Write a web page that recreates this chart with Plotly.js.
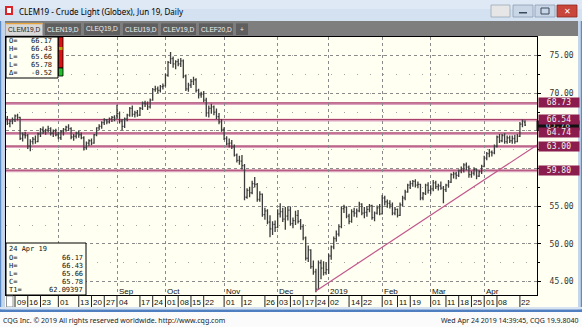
<!DOCTYPE html>
<html><head><meta charset="utf-8">
<script src="https://cdn.plot.ly/plotly-3.0.1.min.js"></script>
<style>html,body{margin:0;padding:0;overflow:hidden;background:#fff}</style>
</head><body><div id="chart" style="width:582px;height:327px"></div>
<script>
// ---------- DATA ----------
const firstDay = '2018-07-02';
const lastDay = '2019-04-24';
const holidays = ['2018-07-04','2018-09-03','2018-11-22','2018-12-25','2019-01-01','2019-01-21','2019-02-18','2019-04-19'];

const openP = [66.2,66.6,66.0,66.3,66.5,67.0,66.8,64.0,64.5,64.4,
 63.0,63.6,63.9,63.6,64.6,65.2,64.9,65.1,65.3,64.7,
 65.0,64.5,64.1,64.9,65.2,65.5,65.3,64.2,64.3,64.7,
 64.5,64.1,62.8,63.4,63.7,63.4,64.5,65.4,65.6,66.1,
 66.5,66.2,66.6,66.8,67.0,67.3,66.3,65.6,66.6,67.1,
 68.0,67.2,67.4,67.1,68.0,68.7,68.6,68.2,69.1,70.5,
 70.6,70.4,70.9,71.0,72.4,74.1,74.6,73.9,74.2,73.9,
 74.3,72.3,70.6,71.1,71.6,71.8,70.4,69.8,69.9,69.1,
 67.4,68.0,68.2,67.5,66.9,66.2,65.2,64.0,63.3,63.4,
 62.9,61.8,61.1,61.0,60.4,56.2,57.1,56.8,58.0,57.9,
 55.9,56.6,53.9,54.4,52.9,52.0,52.6,52.2,54.0,54.3,
 53.3,53.7,54.5,52.7,53.1,53.8,53.0,52.3,50.8,48.1,
 49.2,47.0,46.3,44.0,47.5,46.8,46.2,46.6,48.4,49.6,
 50.7,51.3,52.3,54.7,54.9,53.7,53.0,54.3,54.1,54.4,
 55.3,54.1,54.2,54.6,55.1,53.5,54.1,54.8,54.0,56.1,
 55.6,55.4,55.2,54.1,54.6,53.8,55.2,56.1,56.9,57.8,
 58.0,58.3,57.8,57.9,56.1,56.7,57.8,57.1,57.3,58.1,
 57.6,57.7,57.4,57.2,57.8,58.2,59.2,59.3,59.1,59.7,
 59.8,60.5,60.2,59.2,59.4,59.9,59.0,59.6,60.3,61.4,
 62.0,62.2,62.1,63.0,64.2,63.7,64.4,63.6,64.1,63.7,
 64.0,63.6,64.3,65.9,66.17];
const highP = [66.9,67.0,66.5,66.8,67.2,67.3,66.9,64.8,64.9,64.6,
 63.9,64.2,64.4,64.8,65.4,65.6,65.3,65.7,65.5,65.2,
 65.3,64.9,65.1,65.4,65.7,65.9,65.5,64.6,64.9,65.0,
 64.8,64.3,63.6,63.9,64.0,64.6,65.5,65.9,66.3,66.7,
 66.6,66.8,67.0,67.1,68.5,67.6,66.6,66.8,67.3,68.2,
 68.4,67.7,67.8,68.2,68.9,69.0,68.9,69.3,70.7,71.0,
 70.9,71.1,71.3,72.6,74.3,75.5,74.9,74.4,74.6,74.7,
 74.5,72.5,71.4,71.9,72.2,72.0,70.6,70.2,70.3,69.4,
 68.4,68.6,68.4,68.0,67.4,66.6,65.5,64.3,64.0,63.8,
 63.2,62.0,61.7,61.8,60.6,57.4,57.6,58.4,58.9,58.1,
 57.0,56.7,54.8,54.6,53.8,53.0,53.1,54.6,55.4,54.8,
 54.9,55.0,54.9,53.5,54.4,54.5,53.3,52.6,51.0,49.8,
 49.3,47.8,46.7,47.8,47.9,47.7,47.6,48.7,49.8,51.0,
 51.8,52.6,55.0,55.2,55.0,54.0,54.6,54.8,54.7,55.6,
 55.4,54.9,55.0,55.3,55.2,54.3,55.1,55.3,56.5,56.4,
 55.9,55.8,55.5,54.9,54.7,55.5,56.4,57.2,58.0,58.4,
 58.5,58.6,58.3,58.0,56.9,58.0,58.2,57.8,58.5,58.4,
 58.0,58.3,57.7,58.0,58.5,59.4,59.6,59.6,59.9,60.3,
 60.7,60.8,60.4,59.7,60.2,60.0,59.8,60.5,61.7,62.2,
 62.6,62.4,63.2,64.4,64.6,64.6,64.7,64.4,64.4,64.4,
 64.5,64.6,66.2,66.54,66.43];
const lowP = [65.9,65.8,65.5,65.9,66.2,66.4,63.8,63.6,64.0,62.6,
 62.3,63.2,63.3,63.5,64.2,64.6,64.5,64.8,64.4,64.2,
 64.3,63.9,63.8,64.4,64.9,65.0,63.9,63.7,64.0,64.1,
 63.9,62.4,62.5,63.0,63.1,63.3,64.3,65.1,65.3,65.8,
 65.9,66.0,66.2,66.3,66.6,66.0,65.1,65.4,66.3,66.9,
 66.9,66.8,66.9,67.0,67.8,68.2,67.8,68.0,69.0,70.2,
 70.0,70.1,70.5,70.9,72.2,73.9,73.4,73.2,73.6,73.5,
 72.0,70.3,70.2,70.7,71.1,70.1,69.3,69.4,68.8,66.9,
 66.8,67.3,67.1,66.6,65.9,64.9,63.8,63.1,62.8,62.6,
 61.6,60.8,60.5,59.9,55.8,56.0,56.2,56.6,57.5,55.6,
 55.6,53.6,53.2,52.6,50.9,51.2,51.6,52.1,53.5,52.9,
 51.9,53.1,52.4,52.1,52.5,52.7,51.9,50.5,47.8,47.6,
 46.7,45.9,43.6,43.9,45.3,45.8,45.9,46.0,47.9,49.3,
 50.3,51.0,52.1,54.1,53.4,52.6,52.8,53.6,53.5,54.2,
 53.8,53.4,53.6,54.2,53.2,53.0,53.9,53.8,53.9,55.1,
 54.8,54.7,53.8,53.8,53.5,53.7,55.0,55.8,56.8,57.3,
 57.6,57.5,57.4,55.8,55.8,56.5,56.7,56.6,57.0,57.3,
 57.1,57.2,55.4,56.9,57.5,58.1,58.7,58.6,58.9,59.4,
 59.5,59.8,58.8,58.8,59.1,58.6,58.9,59.3,60.2,61.1,
 61.5,61.6,61.9,62.8,63.4,63.5,63.3,63.3,63.4,63.3,
 63.3,63.5,64.2,65.5,65.66];
const closeP = [66.6,66.0,66.3,66.5,67.0,66.8,64.0,64.5,64.4,63.0,
 63.6,63.9,63.6,64.6,65.2,64.9,65.1,65.3,64.7,65.0,
 64.5,64.1,64.9,65.2,65.5,65.3,64.2,64.3,64.7,64.5,
 64.1,62.8,63.4,63.7,63.4,64.5,65.4,65.6,66.1,66.5,
 66.2,66.6,66.8,66.7,67.3,66.3,65.6,66.6,67.1,68.0,
 67.2,67.4,67.1,68.0,68.7,68.6,68.2,69.1,70.5,70.6,
 70.4,70.9,71.0,72.4,74.1,74.6,73.9,74.2,73.9,74.3,
 72.3,70.6,71.1,71.6,71.8,70.4,69.8,69.9,69.1,67.4,
 68.0,68.2,67.5,66.9,66.2,65.2,64.0,63.3,63.4,62.9,
 61.8,61.1,61.0,60.4,56.2,57.1,56.8,58.0,57.9,55.9,
 56.6,53.9,54.4,52.9,52.0,52.6,52.2,54.0,54.3,53.3,
 53.7,54.5,52.7,53.1,53.8,53.0,52.3,50.8,48.1,49.2,
 47.0,46.3,44.0,47.5,46.8,46.2,46.6,48.4,49.6,50.7,
 51.3,52.3,54.7,54.9,53.7,53.0,54.3,54.1,54.4,55.3,
 54.1,54.2,54.6,55.1,53.5,54.1,54.8,54.0,56.1,55.6,
 55.4,55.2,54.1,54.6,53.8,55.2,56.1,56.9,57.8,58.0,
 58.3,57.8,57.9,56.1,56.7,57.8,57.1,57.3,58.1,57.6,
 57.7,57.4,57.2,57.8,58.2,59.2,59.3,59.1,59.7,59.8,
 60.5,60.2,59.2,59.4,59.9,59.0,59.6,60.3,61.4,62.0,
 62.2,62.1,63.0,64.2,63.7,64.4,63.6,64.1,63.7,64.0,
 63.6,64.3,65.9,66.3,65.78];

const dayTickDates = ['2018-07-09','2018-07-16','2018-07-23','2018-08-01','2018-08-13','2018-08-20','2018-08-27','2018-09-04','2018-09-17','2018-09-24','2018-10-01','2018-10-08','2018-10-15','2018-10-22','2018-11-01','2018-11-12','2018-11-26','2018-12-03','2018-12-10','2018-12-17','2018-12-24','2019-01-02','2019-01-14','2019-01-22','2019-02-01','2019-02-11','2019-02-19','2019-03-01','2019-03-11','2019-03-18','2019-03-25','2019-04-01','2019-04-08','2019-04-22'];
const dayTickText = ['09','16','23','01','13','20','27','04','17','24','01','08','15','22','01','12','26','03','10','17','24','02','14','22','01','11','19','01','11','18','25','01','08','22'];
const monthDates = ['2018-08-01','2018-09-04','2018-10-01','2018-11-01','2018-12-03','2019-01-02','2019-02-01','2019-03-01','2019-04-01'];
const monthText = ['', 'Sep','Oct','Nov','Dec','2019','Feb','Mar','Apr'];

// 60.00 and 65.00 sit under the level boxes in the reference, so they are not shown
const priceTicks = [45,50,55,60,65,70,75];
const priceTickText = ['45.00','50.00','55.00','','','70.00','75.00'];
const levelPrices = [68.73, 66.54, 64.74, 63.00, 59.80];
const levelText = ['68.73','66.54','64.74','63.00','59.80'];
const lastPrice = 65.78;
const lastPriceText = '65.78';
const trendStartDate = '2018-12-24', trendStartPrice = 43.75;
const trendRefDate = '2019-04-24', trendRefPrice = 62.09397;

const topInfoLabels = ['O=','H=','L=','L=','\u0394='];
const topInfoValues = ['66.17','66.43','65.66','65.78','-0.52'];
const botInfoTitle = '24 Apr 19';
const botInfoLabels = ['O=','H=','L=','C=','T1='];
const botInfoValues = ['66.17','66.43','65.66','65.78','62.09397'];
const tabNames = ['CLEM19,D','CLEN19,D','CLEQ19,D','CLEU19,D','CLEV19,D','CLEF20,D','+'];
const titleText = 'CLEM19 - Crude Light (Globex), Jun 19, Daily';
const footLeft = 'CQG Inc. \u00a9 2019 All rights reserved worldwide. http://www.cqg.com';
const footRight = 'Wed Apr 24 2019 14:39:45, CQG 19.9.8040';

// ---------- trading calendar ----------
const dates = [];
(function(){
  let d = new Date(firstDay + 'T00:00:00Z');
  const end = new Date(lastDay + 'T00:00:00Z');
  while (d <= end) {
    const s = d.toISOString().slice(0,10);
    const wd = d.getUTCDay();
    if (wd !== 0 && wd !== 6 && holidays.indexOf(s) < 0) dates.push(s);
    d = new Date(d.getTime() + 86400000);
  }
})();
const xi = dates.map((d,i)=>i);
const idx = d => dates.indexOf(d);

// ---------- geometry ----------
const W=582, H=327, ML=6, MR=45, MT=37, MB=32;
const PW=W-ML-MR, PH=H-MT-MB;
const X = px => (px-ML)/PW;
const Y = py => (H-MB-py)/PH;
const XR = [0.47, 208.7];
const YR = [43.22, 77.48];

const shapes = [];
const ann = [];
function rect(x0,y0,x1,y1,fill,lc,lw,layer){
  shapes.push({type:'rect',xref:'paper',yref:'paper',x0:X(x0),x1:X(x1),y0:Y(y1),y1:Y(y0),
    fillcolor:fill,line:{color:lc||fill,width:lw||0},layer:layer||'above'});
}
function text(x,y,t,o){
  o=o||{};
  ann.push({xref:'paper',yref:'paper',x:X(x),y:Y(y),text:t,showarrow:false,
    xanchor:o.anchor||'left',yanchor:'middle',borderpad:0,
    font:{family:o.family||'Liberation Sans',size:o.size||8,color:o.color||'#111'}});
}

// level lines (under bars)
levelPrices.forEach(p=>{
  shapes.push({type:'rect',xref:'paper',yref:'y',x0:0,x1:1,ysizemode:'pixel',yanchor:p,y0:-2,y1:0.5,
    fillcolor:'#dba3bd',line:{width:0},layer:'below'});
  shapes.push({type:'line',xref:'paper',yref:'y',x0:0,x1:1,y0:p,y1:p,line:{color:'#a3325f',width:1},layer:'below'});
});
// trend line
(function(){
  const i0 = idx(trendStartDate), i1 = idx(trendRefDate);
  const slope = (trendRefPrice-trendStartPrice)/(i1-i0);
  shapes.push({type:'line',xref:'x',yref:'y',x0:i0,y0:trendStartPrice,x1:XR[1],y1:trendRefPrice+slope*(XR[1]-i1),
    line:{color:'#c2578c',width:1.2},layer:'above'});
})();

// info boxes
rect(6,37,58,78,'#fffff2','#000',1);
rect(58.5,37,63,68,'#e01010','#000',0.8);
rect(58.5,68,63,76,'#1fbf2a','#000',0.8);
rect(59,47,62.5,50,'#b8a800','#b8a800',0);
topInfoLabels.forEach((l,i)=>{
  const y = 41.2 + i*8;
  text(8,y,l,{family:'DejaVu Sans Mono',size:7});
  text(53,y,topInfoValues[i],{family:'DejaVu Sans Mono',size:7,anchor:'right'});
});
rect(6,243,86,295,'#fffff2','#000',1);
text(8,249,botInfoTitle,{family:'DejaVu Sans Mono',size:7});
botInfoLabels.forEach((l,i)=>{
  const y = 257.5 + i*8;
  text(8,y,l,{family:'DejaVu Sans Mono',size:7});
  text(84,y,botInfoValues[i],{family:'DejaVu Sans Mono',size:7,anchor:'right'});
});

// month labels
monthDates.forEach((d,i)=>{
  if(!monthText[i]) return;
  ann.push({xref:'x',yref:'paper',x:idx(d),y:Y(291.3),text:monthText[i],showarrow:false,xanchor:'left',yanchor:'middle',
    xshift:0.5,borderpad:0,font:{family:'Liberation Sans',size:8,color:'#111'}});
});
// day row
rect(6.5,296,13,307,'#ffffff','#777',0.8);
dayTickDates.forEach((d,i)=>{
  shapes.push({type:'line',xref:'x',yref:'paper',x0:idx(d),x1:idx(d),y0:Y(307),y1:Y(295.5),line:{color:'#222',width:1},layer:'above'});
  ann.push({xref:'x',yref:'paper',x:idx(d),y:Y(302),text:dayTickText[i],showarrow:false,xanchor:'left',yanchor:'middle',
    xshift:0.5,borderpad:0,font:{family:'Liberation Sans',size:8,color:'#111'}});
});

// right level boxes (current price box sits partly under the level boxes, as in the reference)
ann.push({xref:'paper',yref:'y',x:1,y:lastPrice,xanchor:'left',yanchor:'middle',xshift:-1,text:lastPriceText,showarrow:false,
  bgcolor:'#111',width:42,height:9,borderpad:0,font:{family:'DejaVu Sans Mono',size:8,color:'#ddd'}});
levelPrices.forEach((p,i)=>{
  ann.push({xref:'paper',yref:'y',x:1,y:p,xanchor:'left',yanchor:'middle',xshift:0.5,text:levelText[i],showarrow:false,
    bgcolor:'#8b1d4e',width:40,height:9,borderpad:0,font:{family:'DejaVu Sans Mono',size:8,color:'#f2f2f2'}});
});

// window chrome
rect(0,0,582,21,'#d3e1f1');
rect(0,0,582,9,'#dfe9f5');
rect(5,6,13,15,'#d8262b');
rect(7,8,11,13,'#ffffff');
text(18,11,titleText,{family:'Noto Sans',size:8,color:'#000'});
rect(491,5,510,17,'#e6e6e6','#9aa7b5',0.8);
rect(513,5,533,17,'#c9d6e6','#8d9db2',0.8);
rect(535,5,555,17,'#c9d6e6','#8d9db2',0.8);
rect(557,5,577,17,'#c8463a','#8e2a22',0.8);
rect(519,12,527,13.5,'#3a4b60');
rect(541,8,549,14,'rgba(0,0,0,0)','#3a4b60',1);
text(567,11,'\u2715',{size:8,color:'#fff',anchor:'center',family:'DejaVu Sans'});
rect(0,21,582,36,'#7e7e7e');
let tx = 5.5;
const tabW = [37,37,37,36,36,35,13];
tabNames.forEach((n,i)=>{
  const active = i===0;
  rect(tx,23,tx+tabW[i],35.5,active?'#d8d8d8':'#5f5f5f',active?'#aaa':'#888',0.6);
  if(active) rect(tx,23,tx+tabW[i],24.2,'#e8a33a');
  text(tx+tabW[i]/2,29.5,n,{size:6.6,color:active?'#222':'#f0f0f0',anchor:'center',family:'Liberation Sans'});
  tx += tabW[i]+2;
});
rect(0,21,5,310,'#c5d6ea');
rect(0,21,1.2,312,'#5d8bc6');
rect(578,21,582,310,'#c5d6ea');
rect(580.8,21,582,312,'#5d8bc6');
rect(0,307,582,309.5,'#d7e3f1');
rect(0,309.5,582,312,'#4f7fc0');
rect(0,312,582,327,'#fbfbfb');
text(2,320.5,footLeft,{size:7,color:'#222',family:'Noto Sans'});
text(580,320.5,footRight,{size:7,color:'#222',family:'Noto Sans',anchor:'right'});

const trace = {
  type:'ohlc', x: xi, open: openP, high: highP, low: lowP, close: closeP,
  increasing:{line:{color:'#3c3c3c',width:1.3}}, decreasing:{line:{color:'#3c3c3c',width:1.3}},
  tickwidth:0.4, hoverinfo:'skip', showlegend:false
};

const layout = {
  width:W, height:H, margin:{l:ML,r:MR,t:MT,b:MB,pad:0},
  paper_bgcolor:'#fffff2', plot_bgcolor:'rgba(0,0,0,0)', showlegend:false,
  xaxis:{range:XR, tickvals: monthDates.map(idx), showticklabels:false, ticks:'',
    showgrid:true, gridcolor:'#8a8a8a', griddash:'dot', gridwidth:1, zeroline:false,
    showline:true, mirror:true, linecolor:'#000', linewidth:1, rangeslider:{visible:false}, fixedrange:true},
  yaxis:{side:'right', range:YR, tickvals:priceTicks, ticktext:priceTickText, showgrid:true,
    gridcolor:'#8a8a8a', griddash:'dot', gridwidth:1, ticks:'outside', ticklen:3, tickcolor:'#000',
    ticklabelstandoff:7, showline:true, mirror:true, linecolor:'#000', linewidth:1, zeroline:false,
    tickfont:{family:'DejaVu Sans Mono',size:8,color:'#333'},
    minor:{dtick:2.5, tick0:0, showgrid:true, gridcolor:'#a5a5a5', griddash:'1px,12px', ticks:'outside', ticklen:2, tickcolor:'#000'},
    fixedrange:true},
  shapes:shapes, annotations:ann
};
Plotly.newPlot('chart',[trace],layout,{staticPlot:true,displayModeBar:false});
</script></body></html>
